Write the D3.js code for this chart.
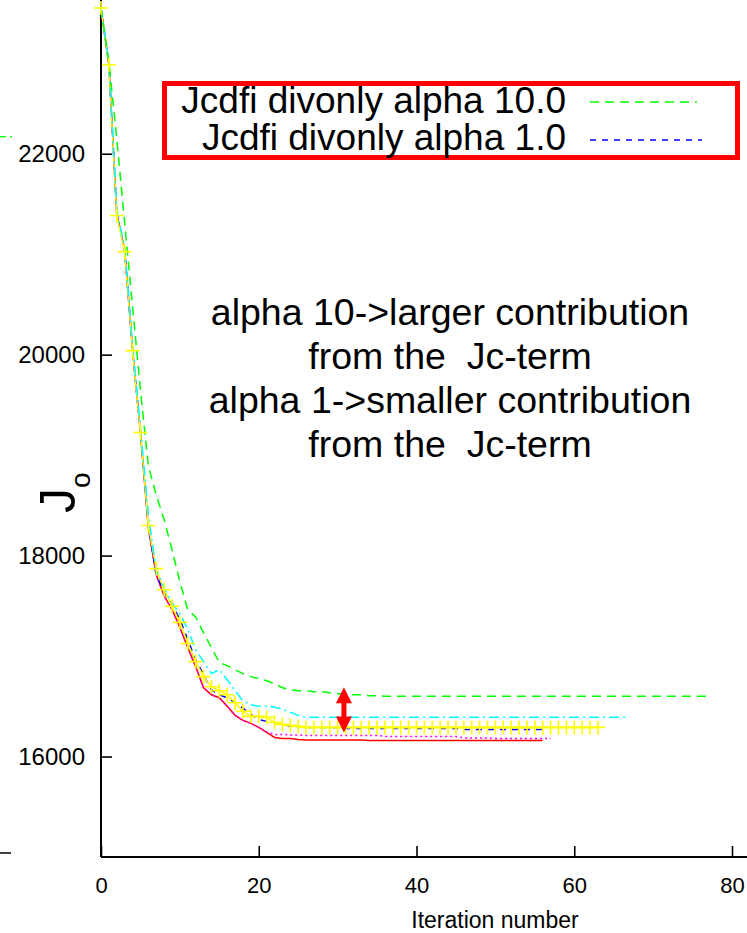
<!DOCTYPE html>
<html>
<head>
<meta charset="utf-8">
<script src="https://cdnjs.cloudflare.com/ajax/libs/d3/7.8.5/d3.min.js"></script>
<style>
  body { margin: 0; background: #fff; }
  svg { display: block; font-family: "Liberation Sans", Arial, Helvetica, sans-serif; }
  text { white-space: pre; }
</style>
</head>
<body>
<div class="container"></div>
<script>
// iteration index is the array position (0, 1, 2, ...)
var alpha10 = [23450,22915,22150,21310,20480,19650,18895,18600,18360,18060,
  17740,17460,17390,17230,17085,16935,16905,16865,16825,16795,
  16775,16755,16725,16685,16665,16655,16655,16645,16645,16635,
  16625,16625,16615,16615,16605,16605,16600,16600,16600,16600,
  16600,16600,16600,16600,16600,16600,16600,16600,16600,16600,
  16600,16600,16600,16600,16600,16600,16600,16600,16600,16600,
  16600,16600,16600,16600,16600,16600,16600,16600,16600,16600,
  16600,16600,16600,16600,16600,16600,16600,16600];
var alpha1 = [23450,22890,21395,21035,20045,19225,18290,17810,17640,17510,
  17365,17165,16965,16815,16665,16615,16585,16535,16480,16420,
  16370,16350,16340,16320,16300,16300,16290,16290,16290,16290,
  16290,16280,16280,16280,16280,16280,16280,16280,16280,16280,
  16280,16280,16280,16280,16280,16280,16270,16270,16270,16270,
  16270,16270,16270,16270,16270,16270,16270];
var runMagenta = [23450,22885,21405,21045,20050,19225,18280,17810,17600,17465,
  17285,17085,16895,16685,16615,16585,16500,16410,16360,16330,
  16290,16245,16220,16220,16215,16215,16210,16210,16210,16210,
  16210,16210,16210,16210,16210,16210,16200,16200,16200,16200,
  16200,16200,16200,16200,16200,16200,16185,16185,16185,16185,
  16180,16180,16180,16180,16180,16180,16180,16180];
var runCyan = [23450,22905,21440,21065,20100,19275,18410,17850,17680,17530,
  17420,17265,17065,16945,16825,16865,16765,16655,16555,16515,
  16500,16500,16490,16470,16440,16410,16390,16390,16390,16390,
  16390,16390,16390,16390,16390,16390,16390,16390,16390,16390,
  16390,16390,16390,16390,16390,16390,16390,16390,16390,16390,
  16390,16390,16390,16390,16390,16390,16390,16390,16390,16390,
  16390,16390,16390,16390,16390,16390,16390,16390];
var runRed = [23450,22885,21405,21045,20050,19225,18280,17810,17600,17465,
  17285,17085,16895,16685,16615,16585,16500,16410,16360,16330,
  16290,16240,16190,16180,16180,16170,16165,16165,16165,16165,
  16165,16165,16165,16165,16160,16160,16160,16160,16160,16160,
  16160,16160,16160,16160,16160,16160,16160,16160,16160,16160,
  16160,16160,16160,16160,16160,16160,16160];
var runYellow = [23450,22885,21385,21025,20040,19225,18300,17870,17660,17495,
  17335,17125,16945,16795,16695,16655,16615,16535,16450,16400,
  16400,16390,16340,16320,16310,16300,16290,16290,16290,16290,
  16290,16290,16290,16290,16290,16290,16290,16290,16290,16290,
  16290,16290,16290,16290,16290,16290,16290,16290,16290,16290,
  16290,16290,16290,16290,16290,16290,16290,16290,16290,16290,
  16290,16290,16290,16290];

var xTicks = [0, 20, 40, 60, 80];
var yTicks = [16000, 18000, 20000, 22000];
var legendLabels = ['Jcdfi divonly alpha 10.0', 'Jcdfi divonly alpha 1.0'];
var noteLines = ['alpha 10->larger contribution', 'from the  Jc-term',
  'alpha 1->smaller contribution', 'from the  Jc-term'];
// double arrow between the alpha 10 and alpha 1 plateaus
var arrowIter = 30.8;
var arrowRange = [16690, 16240];

const WIDTH = 747;
const HEIGHT = 933;

var svg = d3.select('.container').append('svg')
  .attr('width', WIDTH)
  .attr('height', HEIGHT);

var x = d3.scaleLinear().domain([0, 80]).range([101, 732]);
var y = d3.scaleLinear().domain([15000, 23530]).range([857, 0]);

// bits of the neighbouring panel that stick into the crop
svg.append('line').attr('x1', 0).attr('x2', 12)
  .attr('y1', y(22170)).attr('y2', y(22170))
  .attr('stroke', '#00ff00').attr('stroke-width', 1.3).attr('stroke-dasharray', '6,4');
svg.append('line').attr('x1', 0).attr('x2', 11)
  .attr('y1', y(15040)).attr('y2', y(15040))
  .attr('stroke', '#000').attr('stroke-width', 1.5);

// axes
var yAxis = d3.axisLeft(y).tickValues(yTicks).tickSize(-11).tickPadding(16)
  .tickFormat(d3.format('d'));
var gy = svg.append('g').attr('transform', 'translate(' + x(0) + ',0)').call(yAxis);
gy.select('.domain').remove();
gy.selectAll('line').attr('stroke', '#000').attr('stroke-width', 1.6);
gy.selectAll('text').attr('font-size', 24).attr('fill', '#000')
  .attr('font-family', '"Liberation Sans", Arial, sans-serif');

var xAxis = d3.axisBottom(x).tickValues(xTicks).tickSize(-11).tickPadding(20);
var gx = svg.append('g').attr('transform', 'translate(0,' + y(15000) + ')').call(xAxis);
gx.select('.domain').remove();
gx.selectAll('line').attr('stroke', '#000').attr('stroke-width', 1.6);
gx.selectAll('text').attr('font-size', 22).attr('fill', '#000')
  .attr('font-family', '"Liberation Sans", Arial, sans-serif');

svg.append('line').attr('x1', x(0)).attr('x2', WIDTH)
  .attr('y1', y(15000)).attr('y2', y(15000))
  .attr('stroke', '#000').attr('stroke-width', 2);
svg.append('line').attr('x1', x(0)).attr('x2', x(0))
  .attr('y1', 0).attr('y2', y(15000))
  .attr('stroke', '#000').attr('stroke-width', 2);

svg.append('text').attr('x', 495).attr('y', 928)
  .attr('text-anchor', 'middle').attr('font-size', 23)
  .text('Iteration number');

var ylab = svg.append('text')
  .attr('transform', 'translate(75,513) rotate(-90)')
  .attr('text-anchor', 'start').attr('font-size', 50);
ylab.append('tspan').text('J');
ylab.append('tspan').attr('font-size', 28).attr('dy', 15).text('o');

// curves
var line = d3.line()
  .x(function(d, i) { return x(i); })
  .y(function(d) { return y(d); });

var series = [
  { values: runRed, color: '#ff0000', dash: null },
  { values: runMagenta, color: '#ff00ff', dash: '2,3' },
  { values: alpha1, color: '#0000ff', dash: '6,6' },
  { values: runYellow, color: '#ffff00', dash: null },
  { values: runCyan, color: '#00ffff', dash: '10,4,2,4' },
  { values: alpha10, color: '#00ff00', dash: '9,6' }
];

svg.append('g').classed('curves', true)
  .selectAll('path').data(series).enter().append('path')
  .attr('d', function(s) { return line(s.values); })
  .attr('fill', 'none')
  .attr('stroke', function(s) { return s.color; })
  .attr('stroke-width', 1.5)
  .attr('stroke-dasharray', function(s) { return s.dash; });

// yellow "+" points
svg.append('g').selectAll('path').data(runYellow).enter().append('path')
  .attr('d', function(d, i) {
    var px = x(i), py = y(d);
    return 'M' + (px - 7) + ',' + py + 'H' + (px + 7) + 'M' + px + ',' + (py - 7) + 'V' + (py + 7);
  })
  .attr('stroke', '#ffff00').attr('stroke-width', 1.6).attr('fill', 'none');

// arrow
var ax = x(arrowIter), aTop = y(arrowRange[0]), aBot = y(arrowRange[1]);
svg.append('line').attr('x1', ax).attr('x2', ax)
  .attr('y1', aTop + 12).attr('y2', aBot - 12)
  .attr('stroke', '#ff0000').attr('stroke-width', 5);
svg.append('path')
  .attr('d', 'M' + ax + ',' + aTop + 'L' + (ax + 8) + ',' + (aTop + 16) + 'L' + (ax - 8) + ',' + (aTop + 16) + 'Z' +
    'M' + ax + ',' + aBot + 'L' + (ax + 8) + ',' + (aBot - 16) + 'L' + (ax - 8) + ',' + (aBot - 16) + 'Z')
  .attr('fill', '#ff0000');

// notes
svg.append('g').selectAll('text').data(noteLines).enter().append('text')
  .attr('x', 450).attr('y', function(d, i) { return 325 + i * 44; })
  .attr('text-anchor', 'middle').attr('font-size', 37.5)
  .text(function(d) { return d; });

// legend
var legend = svg.append('g');
legend.append('rect').attr('x', 164.5).attr('y', 83.5).attr('width', 573).attr('height', 74)
  .attr('fill', '#fff').attr('stroke', '#ff0000').attr('stroke-width', 5);
var legendStyles = [series[5], series[2]];
legend.selectAll('text').data(legendLabels).enter().append('text')
  .attr('x', 566).attr('y', function(d, i) { return 113 + i * 37; })
  .attr('text-anchor', 'end').attr('font-size', 37)
  .text(function(d) { return d; });
legend.selectAll('line').data(legendStyles).enter().append('line')
  .attr('x1', 590).attr('x2', function(d, i) { return i ? 702 : 697; })
  .attr('y1', function(d, i) { return 102 + i * 38; })
  .attr('y2', function(d, i) { return 102 + i * 38; })
  .attr('stroke', function(d) { return d.color; })
  .attr('stroke-width', 1.5)
  .attr('stroke-dasharray', function(d) { return d.dash; });
</script>
</body>
</html>
